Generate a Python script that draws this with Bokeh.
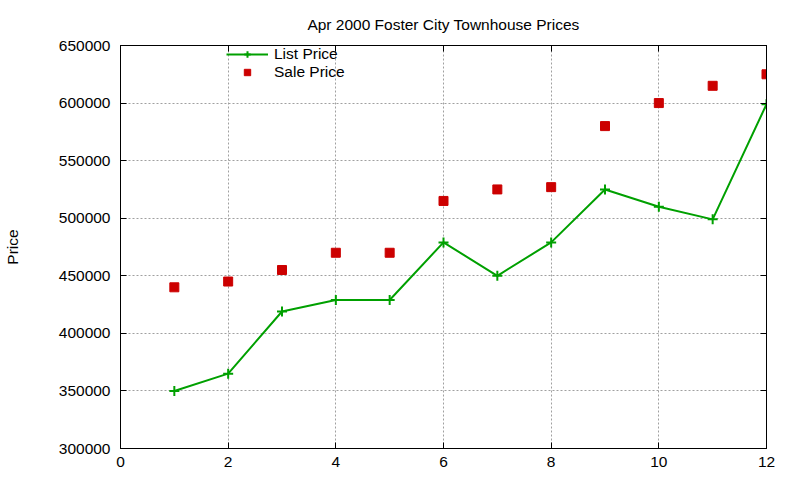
from bokeh.plotting import figure
from bokeh.models import (Range1d, LinearAxis, SingleIntervalTicker, NumeralTickFormatter,
                          CustomJSTickFormatter, Legend, LegendItem, ColumnDataSource)
from bokeh.embed import file_html
from bokeh.resources import INLINE

# ---- data ----
months = [1, 2, 3, 4, 5, 6, 7, 8, 9, 10, 11, 12]
list_price = [350000, 365000, 419000, 429000, 429000, 479000, 450000, 479000, 525000, 510000, 499000, 599000]
sale_price = [440000, 445000, 455000, 470000, 470000, 515000, 525000, 527000, 580000, 600000, 615000, 625000]
title_text = "Apr 2000 Foster City Townhouse Prices"
y_label = "Price"

FONT = "Liberation Sans"
FS = "15.5px"

src = ColumnDataSource(dict(x=months, lp=list_price, sp=sale_price))

p = figure(width=800, height=480, output_backend="svg", toolbar_location=None,
           x_range=Range1d(0, 12), y_range=Range1d(300000, 650000),
           min_border_left=120, min_border_right=34, min_border_top=45, min_border_bottom=32,
           title=title_text)
p.title.align = "center"
p.title.text_font = FONT
p.title.text_font_size = FS
p.title.text_font_style = "normal"
p.title.text_color = "black"
p.title.standoff = 26

p.outline_line_color = "black"
p.outline_line_width = 1
p.background_fill_color = "white"
p.border_fill_color = "white"

xt = SingleIntervalTicker(interval=2)
yt = SingleIntervalTicker(interval=50000)

for ax in p.xaxis:
    ax.ticker = xt
for ax in p.yaxis:
    ax.ticker = yt
    ax.formatter = NumeralTickFormatter(format="0")

def style_axis(ax):
    ax.axis_line_color = "black"
    ax.major_tick_in = 6
    ax.major_tick_out = 0
    ax.minor_tick_in = 0
    ax.minor_tick_out = 0
    ax.major_tick_line_color = "black"
    ax.major_label_text_font = FONT
    ax.major_label_text_font_size = FS
    ax.major_label_text_color = "black"

for ax in p.xaxis:
    style_axis(ax)
    ax.major_label_standoff = 8
for ax in p.yaxis:
    style_axis(ax)
    ax.major_label_standoff = 10
    ax.axis_label = y_label
    ax.axis_label_text_font = FONT
    ax.axis_label_text_font_size = FS
    ax.axis_label_text_font_style = "normal"
    ax.axis_label_text_color = "black"
    ax.axis_label_standoff = 35

blank = CustomJSTickFormatter(code="return ''")
top = LinearAxis(ticker=xt, formatter=blank)
right = LinearAxis(ticker=yt, formatter=blank)
for ax in (top, right):
    style_axis(ax)
    ax.major_label_text_font_size = "0px"
    ax.major_label_standoff = 0
p.add_layout(top, "above")
p.add_layout(right, "right")

p.xgrid.ticker = xt
p.ygrid.ticker = yt
for g in (p.xgrid, p.ygrid):
    g.grid_line_color = "#a0a0a0"
    g.grid_line_dash = "2 2"
    g.grid_line_width = 1

GREEN = "#00a000"
RED = "#cc0000"
l1 = p.line("x", "lp", source=src, line_color=GREEN, line_width=2)
m1 = p.scatter("x", "lp", source=src, marker="cross", size=10, line_color=GREEN, line_width=2)
m2 = p.scatter("x", "sp", source=src, marker="square", size=9, fill_color=RED, line_color=RED)

legend = Legend(items=[LegendItem(label="List Price", renderers=[l1, m1]),
                       LegendItem(label="Sale Price", renderers=[m2])],
                location=(106, 367))
legend.border_line_color = None
legend.background_fill_alpha = 0
legend.padding = 0
legend.margin = 0
legend.spacing = -1
legend.glyph_width = 42
legend.glyph_height = 16
legend.label_height = 16
legend.label_standoff = 6
legend.label_text_font = FONT
legend.label_text_font_size = FS
legend.label_text_color = "black"
legend.label_text_baseline = "middle"
p.add_layout(legend)

open("out.html", "w").write(file_html(p, INLINE))
